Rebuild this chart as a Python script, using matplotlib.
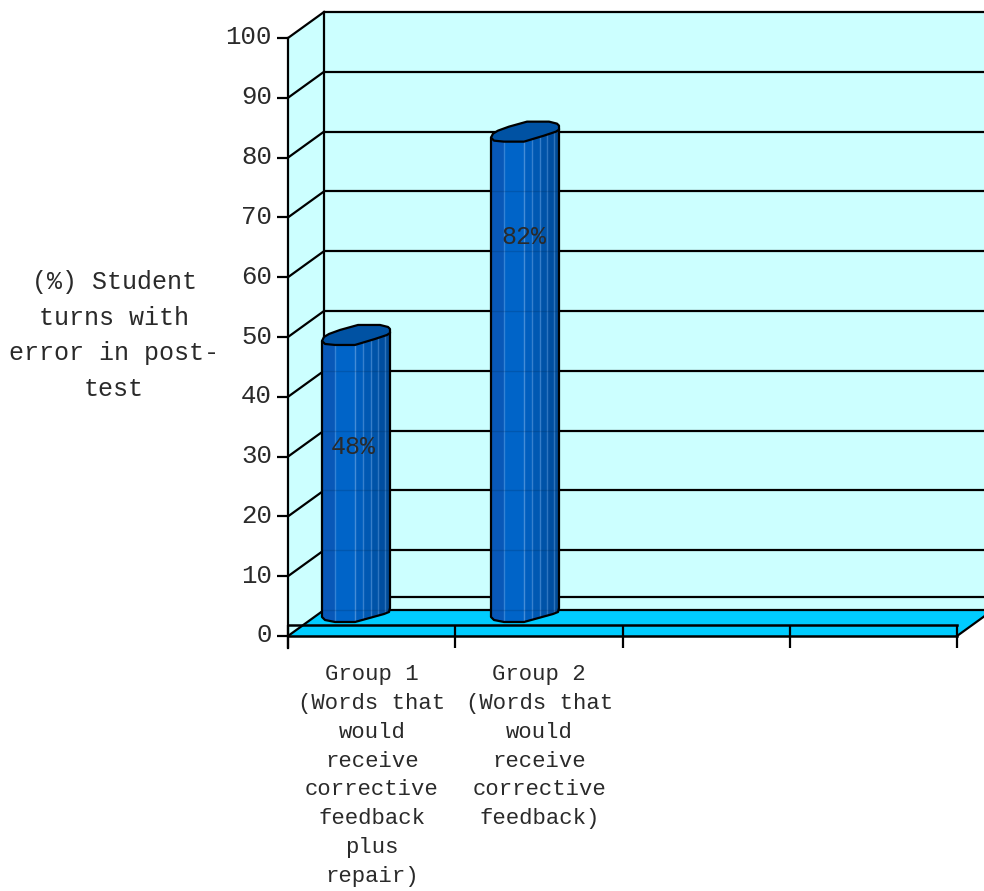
import matplotlib
matplotlib.use("Agg")
import matplotlib.pyplot as plt
from matplotlib.patches import Polygon

groups = [
    "Group 1\n(Words that\nwould\nreceive\ncorrective\nfeedback\nplus\nrepair)",
    "Group 2\n(Words that\nwould\nreceive\ncorrective\nfeedback)",
]
values = [48, 82]
value_labels = ["48%", "82%"]
y_ticks = [0, 10, 20, 30, 40, 50, 60, 70, 80, 90, 100]
y_title = "(%) Student\nturns with\nerror in post-\ntest"

FONT = "Liberation Mono"
LINE = "#000000"
TEXT = "#2a2a2a"
WALL = "#CCFFFF"
FLOOR = "#00CCFF"
CAP = "#0052A3"

# pixel layout of the plot box
X0, Y0 = 288, 636
DX, DY = 36, 26
UNIT_Y = 5.98
SLOT = 167.25
N_SLOTS = 4
RIGHT = X0 + SLOT * N_SLOTS


def py(v):
    return Y0 - v * UNIT_Y


def px(i):
    return X0 + SLOT * i


fig = plt.figure(figsize=(9.84, 8.91), dpi=100)
ax = fig.add_axes([0, 0, 1, 1])
ax.set_xlim(0, 984)
ax.set_ylim(891, 0)
ax.axis("off")

# walls and floor
ax.add_patch(Polygon([(X0, py(100)), (X0 + DX, py(100) - DY), (X0 + DX, Y0 - DY), (X0, Y0)],
                     fc=WALL, ec="none", zorder=1))
ax.add_patch(Polygon([(X0 + DX, py(100) - DY), (990, py(100) - DY), (990, Y0 - DY), (X0 + DX, Y0 - DY)],
                     fc=WALL, ec="none", zorder=1))
ax.add_patch(Polygon([(X0, Y0), (X0 + DX, Y0 - DY), (RIGHT + DX, Y0 - DY), (RIGHT, Y0)],
                     fc=FLOOR, ec="none", zorder=2))

# gridlines, ticks and the diagonal joins on the side wall
for v in y_ticks:
    y = py(v)
    ax.plot([X0 - 11, X0], [y, y], color=LINE, lw=1.6, zorder=3, solid_capstyle="butt")
    ax.plot([X0, X0 + DX], [y, y - DY], color=LINE, lw=1.6, zorder=3)
    ax.plot([X0 + DX, 990], [y - DY, y - DY], color=LINE, lw=1.6, zorder=3, solid_capstyle="butt")
    ax.text(272, y - 0.5, str(v), ha="right", va="center", family=FONT, fontsize=18.5, color=TEXT)

ax.plot([X0 + DX, 990], [Y0 - DY - 13, Y0 - DY - 13], color=LINE, lw=1.6, zorder=3)
ax.plot([X0 + DX, X0 + DX], [py(100) - DY, Y0 - DY], color=LINE, lw=1.6, zorder=3)
ax.plot([X0, X0], [py(100), Y0 + 12], color=LINE, lw=1.6, zorder=3)

# front edge of the floor with category ticks
ax.plot([X0, RIGHT], [Y0, Y0], color=LINE, lw=1.8, zorder=3)
ax.plot([X0, RIGHT], [Y0 - 11, Y0 - 11], color=LINE, lw=1.8, zorder=3)
ax.plot([RIGHT, RIGHT + DX], [Y0, Y0 - DY], color=LINE, lw=1.6, zorder=3)
for i in range(N_SLOTS + 1):
    ax.plot([px(i), px(i)], [Y0 - 11, Y0 + 12], color=LINE, lw=1.6, zorder=3, solid_capstyle="butt")

# strips across the cylinder: left edge offset and colour
strip_x = [-34, -21, -1, 7, 15, 22, 29, 34]
strip_c = ["#0858B8", "#0064C8", "#005EBE", "#0058B2", "#0053A8", "#004EA0", "#004A96"]
cap_outline = [(-34, 5), (-32, 1), (-27, -2), (-16, -6), (2, -11), (24, -11), (32, -9), (34, -7), (34, -3),
               (31, -1), (19, 3), (-1, 9), (-21, 9), (-31, 8)]
base_outline = [(34, -9), (33, -5), (28, -3), (-1, 5), (-21, 5), (-31, 3), (-34, 0)]

for i, v in enumerate(values):
    cx = px(i) + 68 + i * 1.75
    top = py(v) - 13
    base = 617
    body = [(cx - 34, top + 5), (cx + 34, top - 4)] + [(cx + a, base + b) for a, b in base_outline]
    for j, c in enumerate(strip_c):
        strip = ax.fill_between([cx + strip_x[j], cx + strip_x[j + 1]], top - 6, base + 6,
                                color=c, lw=0, zorder=4)
        strip.set_clip_path(Polygon(body, transform=ax.transData))
    for a, alpha in zip(strip_x[1:-1], [0.55, 0.75, 0.6, 0.6, 0.5, 0.5]):
        seam, = ax.plot([cx + a, cx + a], [top, base + 4], color="#5C9CE0", lw=1, alpha=alpha, zorder=5)
        seam.set_clip_path(Polygon(body, transform=ax.transData))
    ax.add_patch(Polygon(body, fc="none", ec=LINE, lw=1.6, zorder=6, joinstyle="round"))
    # gridlines show faintly through the column
    for g in y_ticks:
        y = py(g) - DY
        if top < y < base:
            ax.plot([cx - 33, cx + 33], [y, y], color="#00264d", lw=1, alpha=0.2, zorder=5)
    ax.add_patch(Polygon([(cx + a, top + b) for a, b in cap_outline],
                         fc=CAP, ec=LINE, lw=1.6, zorder=7, joinstyle="round"))

    ax.text(cx - 3 + i * 2, py(v) + [98, 91][i], value_labels[i], ha="center", va="center",
            family=FONT, fontsize=18, color=TEXT, zorder=8)

    ax.text(px(i) + 84, 664, groups[i], ha="center", va="top", family=FONT, fontsize=16,
            color=TEXT, linespacing=1.49)

ax.text(114, 335.5, y_title, ha="center", va="center", family=FONT, fontsize=18,
        color=TEXT, linespacing=1.62)

fig.savefig("out.png", dpi=100)
